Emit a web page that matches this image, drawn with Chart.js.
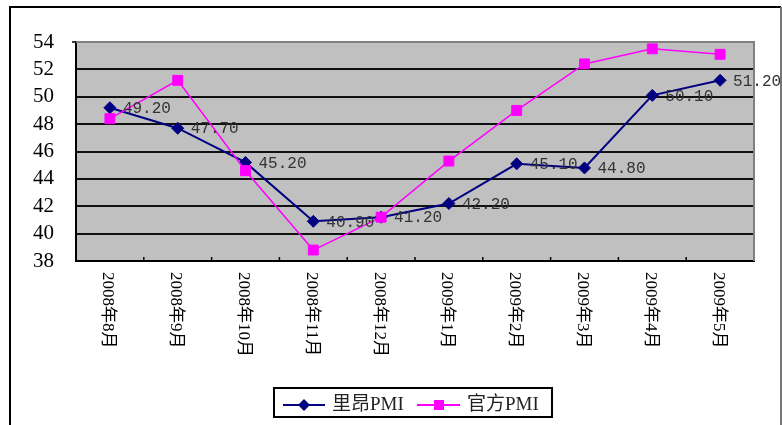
<!DOCTYPE html>
<html>
<head>
<meta charset="utf-8">
<script src="https://cdn.jsdelivr.net/npm/chart.js@4.4.1/dist/chart.umd.min.js"></script>
<style>
  html, body { margin: 0; padding: 0; background: #fff; }
  canvas { display: block; }
</style>
</head>
<body>
<canvas id="pmiChart" width="782" height="425"></canvas>
<script>
const months = ['2008年8月', '2008年9月', '2008年10月', '2008年11月', '2008年12月',
                '2009年1月', '2009年2月', '2009年3月', '2009年4月', '2009年5月'];
const liangPMI = [49.2, 47.7, 45.2, 40.9, 41.2, 42.2, 45.1, 44.8, 50.1, 51.2];
const officialPMI = [48.4, 51.2, 44.6, 38.8, 41.2, 45.3, 49.0, 52.4, 53.5, 53.1];
const seriesNames = ['里昂PMI', '官方PMI'];

const navy = '#000080';
const magenta = '#FF00FF';
const cjkSerif = '"Liberation Serif", "Noto Sans CJK SC"';

// grey plot area, outer frame, axis tick marks, labels and legend
const excelLook = {
    id: 'excelLook',
    beforeDraw(chart) {
        const { ctx, chartArea: a } = chart;
        ctx.save();
        ctx.fillStyle = '#fff';
        ctx.fillRect(0, 0, chart.width, chart.height);
        ctx.strokeStyle = '#000';
        ctx.lineWidth = 2;
        ctx.beginPath();
        ctx.moveTo(10, 440); ctx.lineTo(10, 7); ctx.lineTo(781, 7);
        ctx.stroke();
        ctx.strokeStyle = '#777';
        ctx.beginPath();
        ctx.moveTo(781, 7); ctx.lineTo(781, 440);
        ctx.stroke();
        ctx.fillStyle = '#C0C0C0';
        ctx.fillRect(a.left, a.top, a.right - a.left, a.bottom - a.top);
        ctx.restore();
    },
    beforeDatasetsDraw(chart) {
        const { ctx, chartArea: a, scales: { x } } = chart;
        ctx.save();
        ctx.strokeStyle = '#808080';
        ctx.lineWidth = 2;
        ctx.beginPath();
        ctx.moveTo(a.left, a.top); ctx.lineTo(a.right, a.top); ctx.lineTo(a.right, a.bottom);
        ctx.stroke();
        ctx.strokeStyle = '#000';
        ctx.lineWidth = 1.5;
        ctx.beginPath();
        for (let i = 0; i < months.length - 1; i++) {
            const bx = (x.getPixelForValue(i) + x.getPixelForValue(i + 1)) / 2;
            ctx.moveTo(bx, a.bottom); ctx.lineTo(bx, a.bottom - 4);
        }
        ctx.moveTo(a.left, a.top); ctx.lineTo(a.left - 4, a.top);
        ctx.stroke();
        ctx.restore();
    },
    afterDatasetsDraw(chart) {
        const { ctx } = chart;
        const meta = chart.getDatasetMeta(0);
        ctx.save();
        ctx.font = '16px "Liberation Mono"';
        ctx.fillStyle = '#333';
        ctx.textAlign = 'left';
        ctx.textBaseline = 'middle';
        meta.data.forEach((pt, i) => ctx.fillText(liangPMI[i].toFixed(2), pt.x + 13, pt.y + 1));
        ctx.restore();
    },
    afterDraw(chart) {
        const { ctx, chartArea: a, scales: { x } } = chart;
        ctx.save();
        ctx.font = '17px ' + cjkSerif;
        ctx.fillStyle = '#000';
        ctx.textAlign = 'left';
        ctx.textBaseline = 'middle';
        months.forEach((m, i) => {
            ctx.save();
            ctx.translate(x.getPixelForValue(i) - 2, a.bottom + 11);
            ctx.rotate(Math.PI / 2);
            ctx.fillText(m, 0, 0);
            ctx.restore();
        });

        // legend
        ctx.fillStyle = '#fff';
        ctx.fillRect(274, 388, 278, 29);
        ctx.strokeStyle = '#000';
        ctx.lineWidth = 2;
        ctx.strokeRect(274, 388, 278, 29);
        const ly = 405;
        ctx.lineWidth = 2;
        ctx.strokeStyle = navy;
        ctx.beginPath(); ctx.moveTo(283, ly); ctx.lineTo(325, ly); ctx.stroke();
        ctx.fillStyle = navy;
        ctx.beginPath();
        ctx.moveTo(304, ly - 6); ctx.lineTo(310, ly); ctx.lineTo(304, ly + 6); ctx.lineTo(298, ly);
        ctx.closePath(); ctx.fill();
        ctx.strokeStyle = magenta;
        ctx.beginPath(); ctx.moveTo(417, ly); ctx.lineTo(460, ly); ctx.stroke();
        ctx.fillStyle = magenta;
        ctx.fillRect(434, ly - 5, 10, 10);
        ctx.font = '19px ' + cjkSerif;
        ctx.fillStyle = '#222';
        ctx.fillText(seriesNames[0], 332, ly);
        ctx.fillText(seriesNames[1], 467, ly);
        ctx.restore();
    }
};

new Chart(document.getElementById('pmiChart'), {
    type: 'line',
    data: {
        labels: months,
        datasets: [
            {
                label: seriesNames[0],
                data: liangPMI,
                borderColor: navy,
                backgroundColor: navy,
                borderWidth: 2,
                pointStyle: 'rectRot',
                pointRadius: 6,
                pointBorderWidth: 1,
                tension: 0,
                order: 1,
            },
            {
                label: seriesNames[1],
                data: officialPMI,
                borderColor: magenta,
                backgroundColor: magenta,
                borderWidth: 1.5,
                pointStyle: 'rect',
                pointRadius: 7,
                pointBorderWidth: 1,
                tension: 0,
                order: 0,
            },
        ],
    },
    options: {
        responsive: false,
        animation: false,
        devicePixelRatio: 1,
        layout: { padding: { left: 10, top: 42, right: 28, bottom: 164 } },
        plugins: { legend: { display: false }, tooltip: { enabled: false } },
        scales: {
            x: {
                offset: true,
                ticks: { display: false },
                grid: { display: false, drawTicks: false },
                border: { display: true, color: '#000', width: 2 },
                afterFit: scale => { scale.height = 0; },
            },
            y: {
                min: 38,
                max: 54,
                ticks: {
                    stepSize: 2,
                    autoSkip: false,
                    padding: 22,
                    color: '#000',
                    font: { family: 'Liberation Serif', size: 21, lineHeight: 1 },
                },
                grid: {
                    drawTicks: false,
                    lineWidth: 2,
                    color: ctx => (ctx.tick && ctx.tick.value === 54 ? 'rgba(0,0,0,0)' : '#111'),
                },
                border: { display: true, color: '#000', width: 2 },
                afterFit: scale => { scale.width = 66; },
            },
        },
    },
    plugins: [excelLook],
});
</script>
</body>
</html>
